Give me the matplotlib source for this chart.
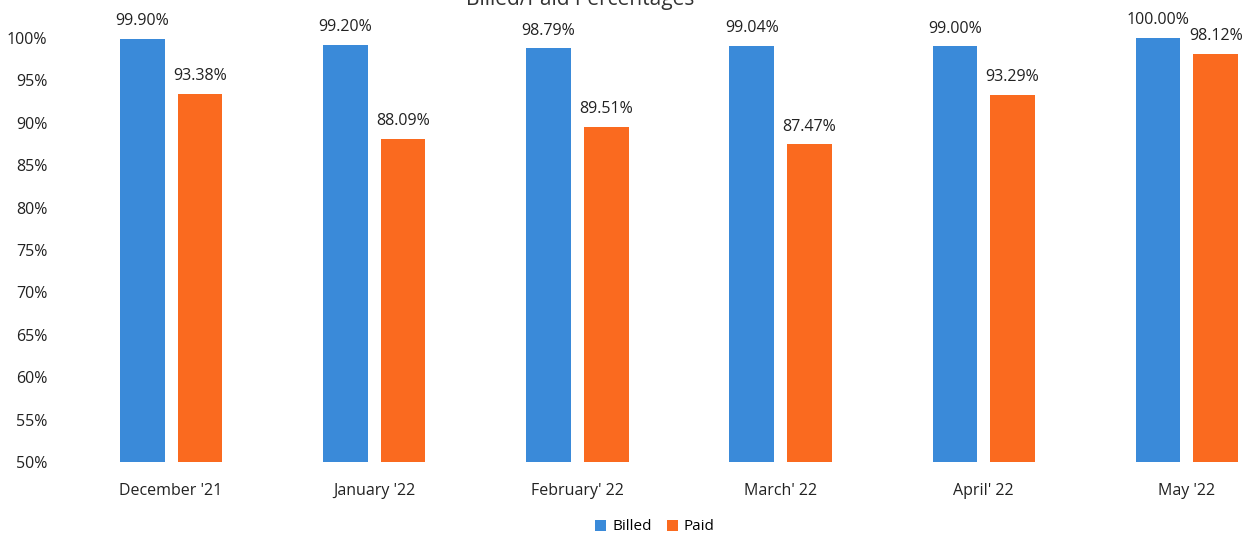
import matplotlib
matplotlib.use("Agg")
from matplotlib import pyplot
from matplotlib.ticker import FuncFormatter
import numpy as np

months = ["December '21", "January '22", "February' 22", "March' 22", "April' 22", "May '22"]
billed = [99.90, 99.20, 98.79, 99.04, 99.00, 100.00]
paid = [93.38, 88.09, 89.51, 87.47, 93.29, 98.12]

blue = "#3a8ad9"
orange = "#fa6a1f"

pyplot.rcParams["font.family"] = ["Open Sans", "DejaVu Sans"]

fig = pyplot.figure(figsize=(12.54, 5.38), dpi=100)
# 軸は右端で画像の外まで伸びている（元画像が切れている）
ax = fig.add_axes([69.5 / 1254, (538 - 462) / 538, 1219 / 1254, 424 / 538])

x = np.arange(len(months))
w = 0.22
off = 0.142
b1 = ax.bar(x - off, [v - 50 for v in billed], w, bottom=50, color=blue, label="Billed", clip_on=False)
b2 = ax.bar(x + off, [v - 50 for v in paid], w, bottom=50, color=orange, label="Paid", clip_on=False)

for bars, vals in ((b1, billed), (b2, paid)):
    for r, v in zip(bars, vals):
        ax.annotate(f"{v:.2f}%", (r.get_x() + r.get_width() / 2, v), xytext=(0, 7),
                    textcoords="offset points", ha="center", va="bottom",
                    fontsize=11.5, color="#222222", annotation_clip=False)

ax.set_xlim(-0.5, len(months) - 0.5)
ax.set_ylim(50, 100)
ax.set_yticks(range(50, 101, 5))
ax.yaxis.set_major_formatter(FuncFormatter(lambda v, p: f"{v:.0f}%"))
ax.set_xticks(x)
ax.set_xticklabels(months)
ax.tick_params(axis="both", length=0, labelsize=11.5, colors="#222222")
ax.tick_params(axis="y", pad=16)
ax.tick_params(axis="x", pad=15)
for s in ax.spines.values():
    s.set_visible(False)

fig.text(580 / 1254, 1.0, "Billed/Paid Percentages", ha="center", va="center",
         fontsize=15, color="#333333")

fig.legend(loc="center", bbox_to_anchor=(655 / 1254, 1 - 527 / 538), ncol=2, frameon=False,
           fontsize=11, handlelength=0.7, handleheight=0.7, columnspacing=1.0, handletextpad=0.4)

fig.savefig("out.png")
